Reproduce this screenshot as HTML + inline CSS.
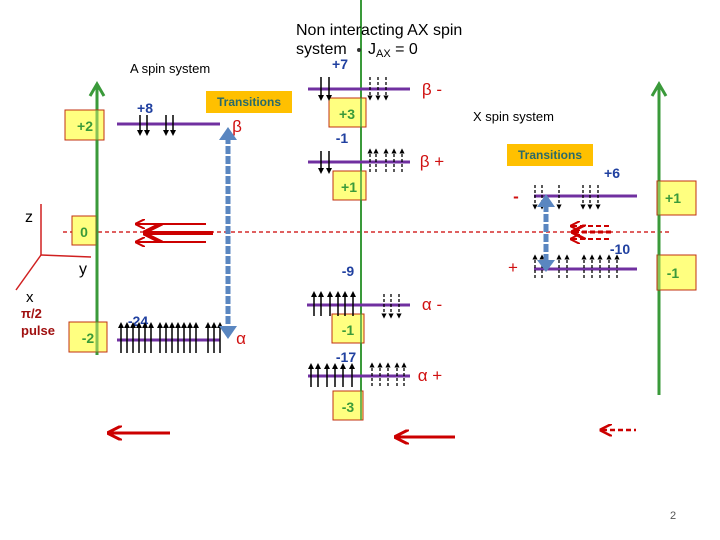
<!DOCTYPE html><html><head><style>body{margin:0;background:#fff}svg{display:block;font-family:"Liberation Sans",sans-serif}</style></head><body>
<svg width="720" height="540" viewBox="0 0 720 540">
<defs>
<marker id="bk" markerWidth="4" markerHeight="4" refX="2" refY="2" orient="auto"><path d="M0,0L4,2L0,4z" fill="#000"/></marker>
<marker id="rd" markerWidth="5" markerHeight="5" refX="1" refY="2.5" orient="auto"><path d="M5,0L0,2.5L5,5" fill="none" stroke="#c00" stroke-width="1"/></marker>
</defs>
<line x1="63" y1="232" x2="670" y2="232" stroke="#c00" stroke-width="1.3" stroke-dasharray="4,3"/>
<!-- green axes -->
<line x1="97" y1="355" x2="97" y2="86" stroke="#3a9a3a" stroke-width="3"/>
<path d="M90,96L97,84L104,96" fill="none" stroke="#3a9a3a" stroke-width="3"/>
<line x1="361" y1="420" x2="361" y2="0" stroke="#3a9a3a" stroke-width="2"/>
<line x1="659" y1="395" x2="659" y2="86" stroke="#3a9a3a" stroke-width="3"/>
<path d="M652,96L659,84L666,96" fill="none" stroke="#3a9a3a" stroke-width="3"/>
<!-- boxes -->
<g fill="#ffff80" stroke="#c03010" stroke-width="1">
<rect x="65" y="110" width="39" height="30"/><rect x="72" y="216" width="24" height="29"/><rect x="69" y="322" width="38" height="30"/>
<rect x="329" y="98" width="37" height="29"/><rect x="333" y="171" width="33" height="29"/><rect x="332" y="314" width="32" height="29"/><rect x="333" y="391" width="30" height="29"/>
<rect x="657" y="181" width="39" height="34"/><rect x="657" y="255" width="39" height="35"/>
</g>
<g fill="#3a9a3a" font-size="14" font-weight="bold" text-anchor="middle">
<text x="85" y="131">+2</text><text x="84" y="237">0</text><text x="88" y="343">-2</text>
<text x="347" y="119">+3</text><text x="349" y="192">+1</text><text x="348" y="335">-1</text><text x="348" y="412">-3</text>
<text x="673" y="203">+1</text><text x="673" y="278">-1</text>
</g>
<line x1="97" y1="110" x2="97" y2="355" stroke="#3a9a3a" stroke-width="3" opacity="0.6"/>
<line x1="361" y1="98" x2="361" y2="420" stroke="#3a9a3a" stroke-width="2" opacity="0.7"/>
<line x1="659" y1="181" x2="659" y2="290" stroke="#3a9a3a" stroke-width="3" opacity="0.6"/>
<!-- titles -->
<text x="296" y="35" font-size="16">Non interacting  AX spin</text>
<text x="296" y="54" font-size="16">system</text>
<circle cx="359" cy="50" r="2" fill="#333"/>
<text x="368" y="54" font-size="16">J<tspan font-size="11" dy="3">AX</tspan><tspan dy="-3"> = 0</tspan></text>
<text x="130" y="73" font-size="13">A spin system</text>
<text x="473" y="121" font-size="13">X spin system</text>
<rect x="206" y="91" width="86" height="22" fill="#ffc000"/><text x="249" y="106" font-size="12" font-weight="bold" fill="#2a6a6a" text-anchor="middle">Transitions</text>
<rect x="507" y="144" width="86" height="22" fill="#ffc000"/><text x="550" y="159" font-size="12" font-weight="bold" fill="#2a6a6a" text-anchor="middle">Transitions</text>
<g fill="#2040a0" font-size="14" font-weight="bold" text-anchor="middle">
<text x="145" y="113">+8</text><text x="138" y="326">-24</text><text x="340" y="69">+7</text><text x="342" y="143">-1</text><text x="348" y="276">-9</text><text x="346" y="362">-17</text><text x="612" y="178">+6</text><text x="620" y="254">-10</text>
</g>
<g fill="#d01010" font-size="17" text-anchor="middle">
<text x="237" y="132">β</text><text x="241" y="344">α</text><text x="432" y="95">β -</text><text x="432" y="167">β +</text><text x="432" y="310">α -</text><text x="430" y="381">α +</text>
<text x="516" y="202" font-weight="bold">-</text><text x="513" y="273">+</text>
</g>
<g stroke="#7030a0" stroke-width="3">
<line x1="117" y1="124" x2="220" y2="124"/><line x1="117" y1="340" x2="220" y2="340"/>
<line x1="308" y1="89" x2="410" y2="89"/><line x1="308" y1="162" x2="410" y2="162"/>
<line x1="307" y1="305" x2="410" y2="305"/><line x1="308" y1="376" x2="410" y2="376"/>
<line x1="534" y1="196" x2="637" y2="196"/><line x1="534" y1="269" x2="637" y2="269"/>
</g>
<g stroke="#000" stroke-width="1.5" marker-end="url(#bk)">
<line x1="140" y1="115" x2="140" y2="133"/><line x1="147" y1="115" x2="147" y2="133"/><line x1="166" y1="115" x2="166" y2="133"/><line x1="173" y1="115" x2="173" y2="133"/>
<line x1="121" y1="353" x2="121" y2="325"/><line x1="127" y1="353" x2="127" y2="325"/><line x1="133" y1="353" x2="133" y2="325"/><line x1="139" y1="353" x2="139" y2="325"/><line x1="145" y1="353" x2="145" y2="325"/><line x1="151" y1="353" x2="151" y2="325"/><line x1="160" y1="353" x2="160" y2="325"/><line x1="166" y1="353" x2="166" y2="325"/><line x1="172" y1="353" x2="172" y2="325"/><line x1="178" y1="353" x2="178" y2="325"/><line x1="184" y1="353" x2="184" y2="325"/><line x1="190" y1="353" x2="190" y2="325"/><line x1="196" y1="353" x2="196" y2="325"/><line x1="208" y1="353" x2="208" y2="325"/><line x1="214" y1="353" x2="214" y2="325"/><line x1="220" y1="353" x2="220" y2="325"/>
<line x1="321" y1="77" x2="321" y2="98"/><line x1="329" y1="77" x2="329" y2="98"/>
<line x1="321" y1="151" x2="321" y2="171"/><line x1="329" y1="151" x2="329" y2="171"/>
<line x1="314" y1="316" x2="314" y2="294"/><line x1="321" y1="316" x2="321" y2="294"/><line x1="330" y1="316" x2="330" y2="294"/><line x1="338" y1="316" x2="338" y2="294"/><line x1="345" y1="316" x2="345" y2="294"/><line x1="353" y1="316" x2="353" y2="294"/>
<line x1="311" y1="387" x2="311" y2="366"/><line x1="318" y1="387" x2="318" y2="366"/><line x1="327" y1="387" x2="327" y2="366"/><line x1="335" y1="387" x2="335" y2="366"/><line x1="343" y1="387" x2="343" y2="366"/><line x1="352" y1="387" x2="352" y2="366"/>
</g>
<g stroke="#000" stroke-width="1.3" stroke-dasharray="3,2" marker-end="url(#bk)">
<line x1="370" y1="77" x2="370" y2="98"/><line x1="378" y1="77" x2="378" y2="98"/><line x1="386" y1="77" x2="386" y2="98"/>
<line x1="370" y1="172" x2="370" y2="151"/><line x1="376" y1="172" x2="376" y2="151"/><line x1="386" y1="172" x2="386" y2="151"/><line x1="394" y1="172" x2="394" y2="151"/><line x1="402" y1="172" x2="402" y2="151"/>
<line x1="384" y1="294" x2="384" y2="316"/><line x1="391" y1="294" x2="391" y2="316"/><line x1="399" y1="294" x2="399" y2="316"/>
<line x1="372" y1="386" x2="372" y2="365"/><line x1="380" y1="386" x2="380" y2="365"/><line x1="388" y1="386" x2="388" y2="365"/><line x1="397" y1="386" x2="397" y2="365"/><line x1="404" y1="386" x2="404" y2="365"/>
<line x1="535" y1="185" x2="535" y2="207"/><line x1="542" y1="185" x2="542" y2="207"/><line x1="559" y1="185" x2="559" y2="207"/><line x1="583" y1="185" x2="583" y2="207"/><line x1="590" y1="185" x2="590" y2="207"/><line x1="598" y1="185" x2="598" y2="207"/>
<line x1="535" y1="278" x2="535" y2="257"/><line x1="542" y1="278" x2="542" y2="257"/><line x1="559" y1="278" x2="559" y2="257"/><line x1="567" y1="278" x2="567" y2="257"/><line x1="584" y1="278" x2="584" y2="257"/><line x1="592" y1="278" x2="592" y2="257"/><line x1="600" y1="278" x2="600" y2="257"/><line x1="609" y1="278" x2="609" y2="257"/><line x1="617" y1="278" x2="617" y2="257"/>
</g>
<g stroke="#5a86c0" stroke-width="5" stroke-dasharray="8,2">
<line x1="228" y1="136" x2="228" y2="330"/><line x1="546" y1="204" x2="546" y2="262"/>
</g>
<path d="M219,140L228,127L237,140z M219,326L228,339L237,326z M537,207L546,194L555,207z M537,260L546,272L555,260z" fill="#5a86c0"/>
<g stroke="#c00" fill="none">
<line x1="137" y1="224" x2="206" y2="224" stroke-width="2" marker-start="url(#rd)"/>
<line x1="147" y1="233" x2="213" y2="233" stroke-width="4" marker-start="url(#rd)"/>
<line x1="137" y1="242" x2="206" y2="242" stroke-width="2" marker-start="url(#rd)"/>
<line x1="110" y1="433" x2="170" y2="433" stroke-width="3" marker-start="url(#rd)"/>
<line x1="397" y1="437" x2="455" y2="437" stroke-width="3" marker-start="url(#rd)"/>
<line x1="602" y1="430" x2="636" y2="430" stroke-width="2.5" stroke-dasharray="5,3" marker-start="url(#rd)"/>
<line x1="572" y1="226" x2="612" y2="226" stroke-width="2" stroke-dasharray="5,3" marker-start="url(#rd)"/>
<line x1="574" y1="232" x2="614" y2="232" stroke-width="3" stroke-dasharray="5,3" marker-start="url(#rd)"/>
<line x1="572" y1="239" x2="612" y2="239" stroke-width="2" stroke-dasharray="5,3" marker-start="url(#rd)"/>
</g>
<g stroke="#d02020" stroke-width="1.5" fill="none">
<line x1="41" y1="255" x2="41" y2="204"/><line x1="41" y1="255" x2="91" y2="257"/><line x1="41" y1="255" x2="16" y2="290"/>
</g>
<text x="25" y="222" font-size="16">z</text><text x="79" y="274" font-size="16">y</text><text x="26" y="302" font-size="15">x</text>
<text x="21" y="318" font-size="13" fill="#a01010" font-weight="bold">π/2</text>
<text x="21" y="335" font-size="13" fill="#a01010" font-weight="bold">pulse</text>
<text x="673" y="519" font-size="11" fill="#555" text-anchor="middle">2</text>
</svg></body></html>
